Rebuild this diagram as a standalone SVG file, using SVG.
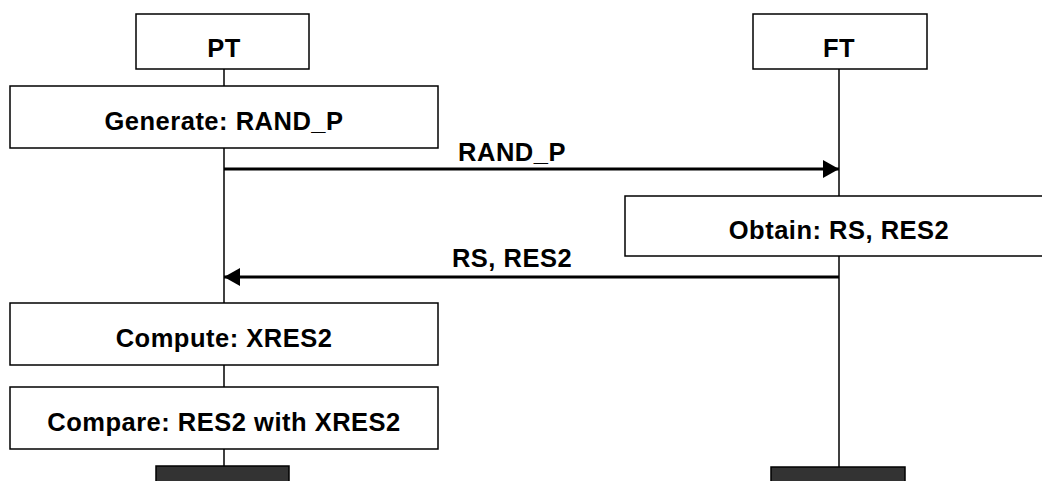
<svg xmlns="http://www.w3.org/2000/svg" width="1042" height="481" viewBox="0 0 1042 481">
<style>
.box{fill:#fff;stroke:#000;stroke-width:1.5}
.end{fill:#333;stroke:#000;stroke-width:1.5}
.life{stroke:#000;stroke-width:1.5;fill:none}
.msg{stroke:#000;stroke-width:3;fill:none}
text{font-family:"Liberation Sans",Arial,sans-serif;font-weight:bold;font-size:25.5px;letter-spacing:0.5px;fill:#000;text-anchor:middle}
</style>
<defs>
<marker id="ah" markerUnits="userSpaceOnUse" markerWidth="16" markerHeight="18" refX="16" refY="9" orient="auto">
<path d="M0,0 L16,9 L0,18 Z" fill="#000"/>
</marker>
</defs>
<g id="lifelines">
<line class="life" x1="224" y1="69" x2="224" y2="466"/>
<line class="life" x1="839" y1="69" x2="839" y2="467"/>
</g>
<g id="PT"><rect class="box" x="136" y="14" width="173" height="55"/><text x="224" y="57">PT</text></g>
<g id="FT"><rect class="box" x="753" y="14" width="174" height="55"/><text x="839" y="57">FT</text></g>
<g id="generate"><rect class="box" x="10" y="86" width="428" height="62"/><text x="224" y="130">Generate: RAND_P</text></g>
<g id="obtain"><rect class="box" x="625" y="196" width="430" height="60"/><text x="839" y="239">Obtain: RS, RES2</text></g>
<g id="compute"><rect class="box" x="10" y="303" width="428" height="62"/><text x="224" y="347">Compute: XRES2</text></g>
<g id="compare"><rect class="box" x="10" y="387" width="428" height="62"/><text x="224" y="431">Compare: RES2 with XRES2</text></g>
<g id="PT-end"><rect class="end" x="156" y="466" width="133" height="20"/></g>
<g id="FT-end"><rect class="end" x="771" y="467" width="134" height="20"/></g>
<g id="connectors">
<line class="msg" x1="224" y1="169" x2="839" y2="169" marker-end="url(#ah)"/>
<text x="512" y="161">RAND_P</text>
<line class="msg" x1="839" y1="277" x2="224" y2="277" marker-end="url(#ah)"/>
<text x="512" y="267">RS, RES2</text>
</g>
</svg>
